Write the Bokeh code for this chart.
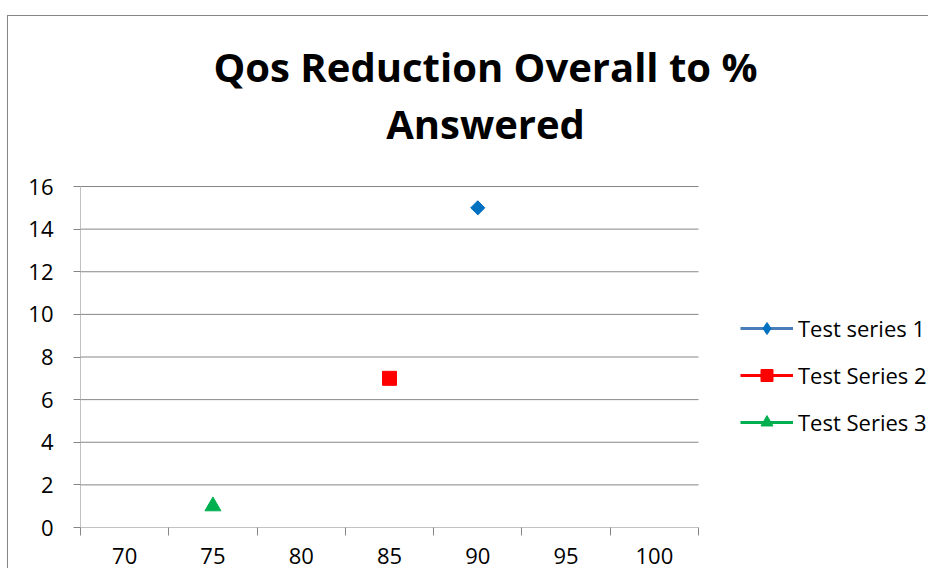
import numpy as np
from bokeh.plotting import figure
from bokeh.models import Range1d, FixedTicker, Legend, LegendItem, Label
from bokeh.embed import file_html
from bokeh.resources import INLINE

# ---- data ----
x_categories = [70, 75, 80, 85, 90, 95, 100]
y_ticks = [0, 2, 4, 6, 8, 10, 12, 14, 16]
series_names = ["Test series 1", "Test Series 2", "Test Series 3"]
series1_x = [90]
series1_y = [15]
series2_x = [85]
series2_y = [7]
series3_x = [75]
series3_y = [1]
title_lines = ["Qos Reduction Overall to %", "Answered"]

FONT = "Open Sans"
GRID = "#868686"
LBL = "22px"

step = x_categories[1] - x_categories[0]
boundaries = [c - step / 2 for c in x_categories] + [x_categories[-1] + step / 2]

# ---- layout (pixels, canvas coordinates) ----
W, H = 921, 553
AX_L, AX_R, AX_T, AX_B = 72, 690, 170, 511      # the plotting area proper
FR_T = 0                                         # frame extends over title/legend
upp_x = (boundaries[-1] - boundaries[0]) / (AX_R - AX_L)
upp_y = (y_ticks[-1] - y_ticks[0]) / (AX_B - AX_T)
x_end = boundaries[0] + (W - AX_L) * upp_x
y_end = y_ticks[0] + (AX_B - FR_T) * upp_y

def px_x(px):
    return boundaries[0] + (px - AX_L) * upp_x

def px_y(py):
    return y_ticks[0] + (AX_B - py) * upp_y

p = figure(width=W, height=H, output_backend="svg", toolbar_location=None,
           x_range=Range1d(boundaries[0], x_end),
           y_range=Range1d(y_ticks[0], y_end),
           min_border_left=AX_L, min_border_right=0,
           min_border_top=FR_T, min_border_bottom=H - AX_B,
           margin=(15, 0, 0, 7),
           styles={"border-top": "1px solid #868686", "border-left": "1px solid #868686"})
p.outline_line_color = None
p.background_fill_color = "white"
p.border_fill_color = "white"
p.xgrid.visible = False
p.ygrid.visible = False

# x axis (category style: ticks between labels)
xa = p.xaxis[0]
xa.ticker = FixedTicker(ticks=x_categories, minor_ticks=boundaries)
xa.major_tick_out = 0
xa.major_tick_in = 0
xa.minor_tick_out = 8
xa.minor_tick_in = 0
xa.minor_tick_line_color = GRID
xa.axis_line_color = None
xa.major_label_text_font = FONT
xa.major_label_text_font_size = LBL
xa.major_label_text_color = "black"
xa.major_label_standoff = 12

# y axis
ya = p.yaxis[0]
ya.ticker = FixedTicker(ticks=y_ticks)
ya.major_tick_out = 7
ya.major_tick_in = 0
ya.minor_tick_out = 0
ya.minor_tick_in = 0
ya.major_tick_line_color = GRID
ya.axis_line_color = None
ya.major_label_text_font = FONT
ya.major_label_text_font_size = LBL
ya.major_label_text_color = "black"
ya.major_label_standoff = 20

# gridlines and axis line limited to the plotting area
n = len(y_ticks)
p.segment(x0=[boundaries[0]] * n, x1=[boundaries[-1]] * n, y0=y_ticks, y1=y_ticks,
          line_color=GRID, line_width=1)
p.segment(x0=[boundaries[0]], x1=[boundaries[0]], y0=[y_ticks[0]], y1=[y_ticks[-1]],
          line_color=GRID, line_width=1)

# series
l1 = p.line(series1_x, series1_y, line_color="#4A7EBB", line_width=3)
# diamond key (also drawn under the rotated square at the same point)
s1_key = p.scatter(series1_x, series1_y, marker="diamond", size=13,
                   fill_color="#0070C0", line_color="#0070C0")
s1 = p.scatter(series1_x, series1_y, marker="square", angle=np.pi / 4, size=10,
               fill_color="#0070C0", line_color="#0070C0")
l2 = p.line(series2_x, series2_y, line_color="#FF0000", line_width=3)
s2 = p.scatter(series2_x, series2_y, marker="square", size=14,
               fill_color="#FF0000", line_color="#FF0000")
l3 = p.line(series3_x, series3_y, line_color="#00B050", line_width=3)
s3 = p.scatter(series3_x, series3_y, marker="triangle", size=16,
               fill_color="#00B050", line_color="#00B050")

legend = Legend(items=[
    LegendItem(label=series_names[0], renderers=[l1, s1_key]),
    LegendItem(label=series_names[1], renderers=[l2, s2]),
    LegendItem(label=series_names[2], renderers=[l3, s3]),
], location=(660, 90))
legend.border_line_color = None
legend.background_fill_alpha = 0
legend.padding = 0
legend.margin = 0
legend.glyph_width = 53
legend.glyph_height = 30
legend.label_height = 30
legend.label_standoff = 5
legend.spacing = 17
legend.label_text_font = FONT
legend.label_text_font_size = LBL
legend.label_text_color = "black"
p.add_layout(legend)

# two-line title
title_y_px = [50, 107]
for t, ty in zip(title_lines, title_y_px):
    p.add_layout(Label(x=px_x(477), y=px_y(ty), text=t,
                       text_align="center", text_baseline="middle",
                       text_font=FONT, text_font_style="bold",
                       text_font_size="40px", text_color="black"))

open("out.html", "w").write(file_html(p, INLINE))
